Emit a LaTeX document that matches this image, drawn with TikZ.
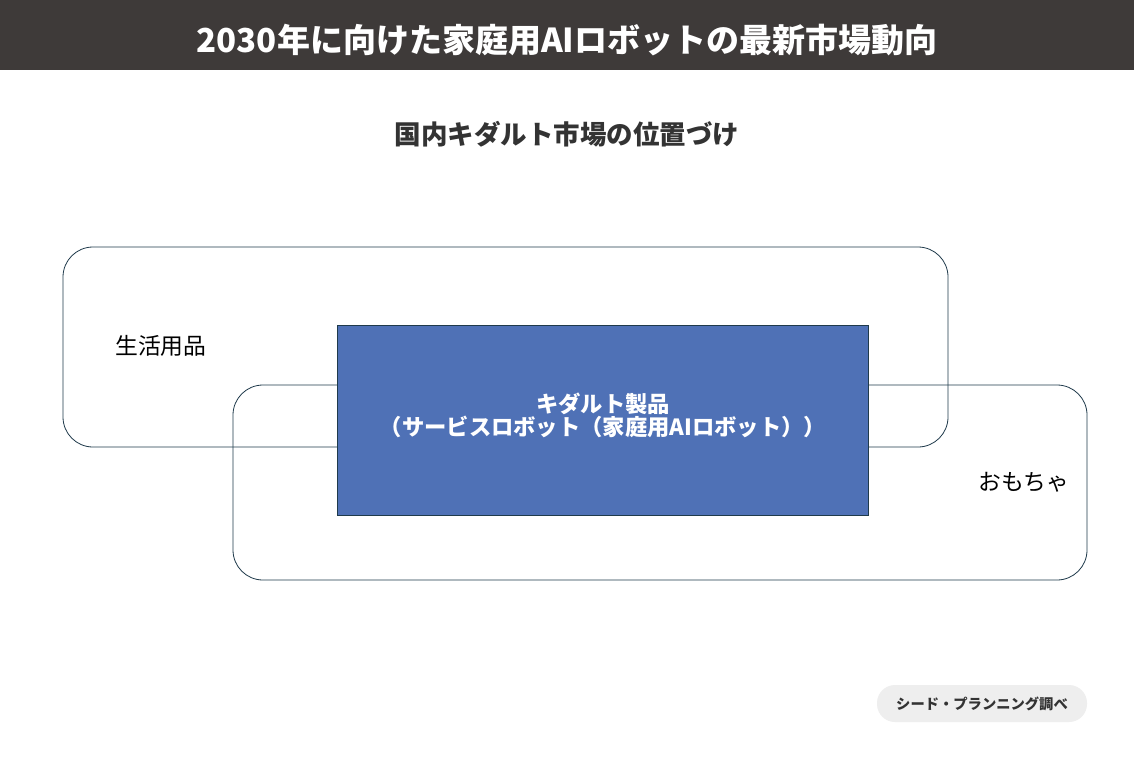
\documentclass[tikz,border=0pt]{standalone}
\usepackage{fontspec}
\setmainfont{Noto Sans CJK JP}
\usetikzlibrary{positioning}
\definecolor{barcolor}{HTML}{3E3A39}
\definecolor{framecolor}{HTML}{1F3A4B}
\definecolor{productblue}{HTML}{4F71B6}
\definecolor{tagcolor}{HTML}{EEEEEE}
\definecolor{textgray}{HTML}{333333}
\begin{document}
\begin{tikzpicture}[x=1pt,y=-1pt,
    market/.style ={draw=framecolor, rounded corners=30pt, line width=0.8pt},
    label/.style ={font=\fontsize{22.8}{23}\selectfont, text=black, inner sep=0pt}]
   \useasboundingbox (0,0) rectangle (1134,756);
   \fill[white] (0,0) rectangle (1134,756);
   % title bar
   \fill[barcolor] (0,0) rectangle (1134,70);
   \node[text=white, font=\fontsize{33}{33}\selectfont\bfseries] (title) at (567,40) {2030年に向けた家庭用AIロボットの最新市場動向};
   \node[text=textgray, font=\fontsize{26.5}{27}\selectfont\bfseries] (subtitle) at (567,134) {国内キダルト市場の位置づけ};
   % markets
   \draw[market] (63,247) rectangle (948,447);
   \draw[market] (233,385) rectangle (1087,580);
   \node[label, anchor=west] (daily) at (115,346) {生活用品};
   \node[label, anchor=west] (toys) at (978,482) {おもちゃ};
   \node[draw=framecolor, fill=productblue, minimum width=531pt, minimum height=190pt] (kidult) at (602.5,420) {};
   \node[text=white, align=center, font=\fontsize{22.3}{21}\selectfont\bfseries] (kidulttext) at (603,415)
         {キダルト製品\\（サービスロボット（家庭用AIロボット））};
   % source
   \node[fill=tagcolor, rounded corners=18pt, minimum width=210pt, minimum height=37pt,
         text=textgray, font=\fontsize{14.3}{15}\selectfont\bfseries] (source) at (982,703.5) {シード・プランニング調べ};
 \end{tikzpicture}
\end{document}
